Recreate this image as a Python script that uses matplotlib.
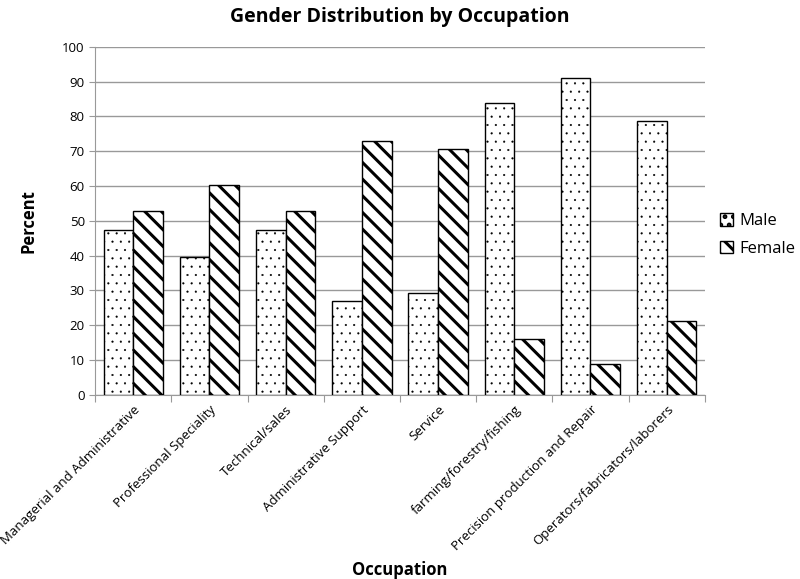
import numpy as np
import matplotlib.pyplot as plt

plt.rcParams['font.family'] = ['Open Sans', 'DejaVu Sans']

occupations = ['Managerial and Administrative', 'Professional Speciality',
               'Technical/sales', 'Administrative Support', 'Service',
               'farming/forestry/fishing', 'Precision production and Repair',
               'Operators/fabricators/laborers']
male = [47.3, 39.7, 47.3, 27.0, 29.2, 84.0, 91.0, 78.8]
female = [52.7, 60.3, 52.7, 73.0, 70.8, 16.0, 9.0, 21.2]

fig = plt.figure(figsize=(8, 5.79), dpi=100)
ax = fig.add_axes([0.119, 0.318, 0.762, 0.601])

x = np.arange(len(occupations))
w = 0.39

plt.rcParams['hatch.linewidth'] = 0.3
male_bars = ax.bar(x - w / 2, male, w, color='white', edgecolor='black',
                   linewidth=1, hatch='..', label='Male', zorder=3)
plt.rcParams['hatch.linewidth'] = 2.2
female_bars = ax.bar(x + w / 2, female, w, color='white', edgecolor='black',
                     linewidth=1, hatch='\\\\', label='Female', zorder=3)
for b in male_bars:
    if hasattr(b, 'set_hatch_linewidth'):
        b.set_hatch_linewidth(0.3)
for b in female_bars:
    if hasattr(b, 'set_hatch_linewidth'):
        b.set_hatch_linewidth(2.2)

ax.set_xlim(-0.5, len(occupations) - 0.5)
ax.set_ylim(0, 100)
ax.set_yticks(range(0, 101, 10))
ax.yaxis.grid(True, color='#999999', linewidth=1, zorder=0)
ax.tick_params(axis='y', length=4, color='#999999', labelsize=9.5)

# ticks between categories, labels at centers
ax.set_xticks(np.arange(-0.5, len(occupations), 1))
ax.set_xticklabels([])
ax.set_xticks(x, minor=True)
ax.set_xticklabels(occupations, minor=True, rotation=45, ha='right',
                   rotation_mode='anchor', fontsize=9.5)
ax.tick_params(axis='x', which='major', length=5, color='#999999')
ax.tick_params(axis='x', which='minor', length=0, pad=6)

for s in ['top', 'right']:
    ax.spines[s].set_visible(False)
ax.spines['left'].set_color('#999999')
ax.spines['bottom'].set_color('#999999')

ax.set_title('Gender Distribution by Occupation', fontsize=14,
             fontweight='bold', pad=18)
ax.set_ylabel('Percent', fontsize=12, fontweight='bold', labelpad=18)
fig.text(0.5, 0.0, 'Occupation', ha='center', va='bottom', fontsize=12,
         fontweight='bold')

leg = ax.legend(loc='center left', bbox_to_anchor=(1.0, 0.46), frameon=False,
                fontsize=12, handlelength=0.8, handleheight=0.8,
                handletextpad=0.4, labelspacing=0.7)

fig.savefig('out.png', dpi=100)
